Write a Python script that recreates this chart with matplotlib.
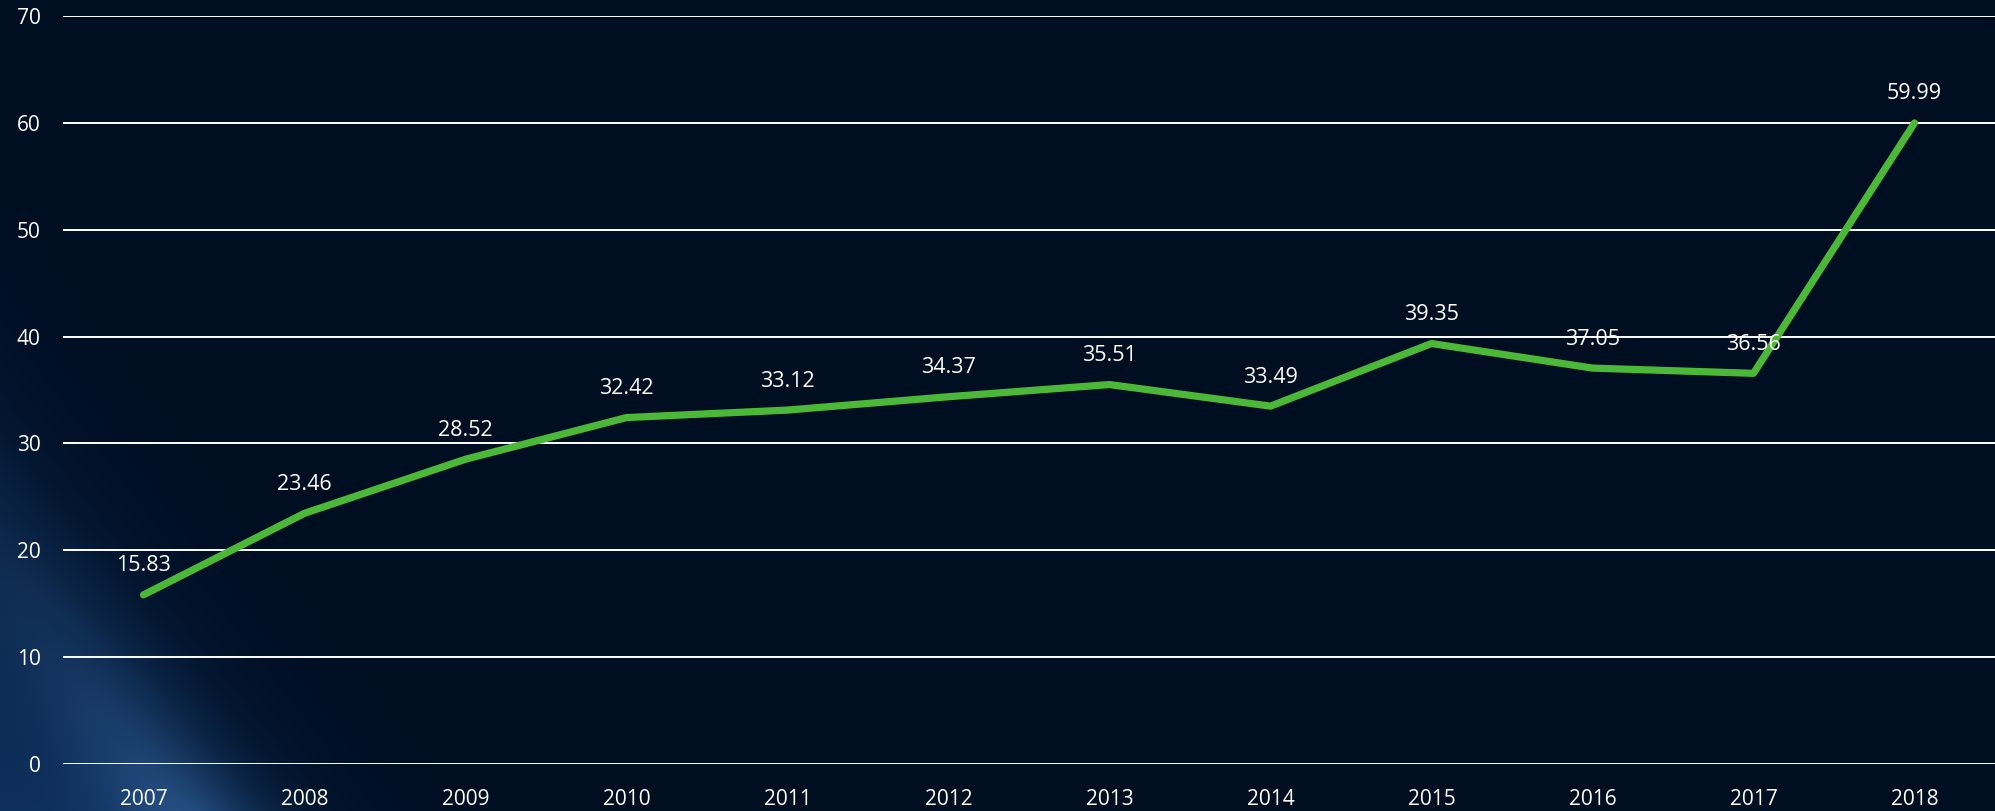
import numpy as np
import matplotlib
matplotlib.use("Agg")
import matplotlib.pyplot as plt

years = ["2007", "2008", "2009", "2010", "2011", "2012", "2013", "2014", "2015", "2016", "2017", "2018"]
values = [15.83, 23.46, 28.52, 32.42, 33.12, 34.37, 35.51, 33.49, 39.35, 37.05, 36.56, 59.99]
yticks = [0, 10, 20, 30, 40, 50, 60, 70]

plt.rcParams['font.family'] = ['Open Sans', 'DejaVu Sans']

W, H = 1995, 811
fig = plt.figure(figsize=(W / 100, H / 100), dpi=100)
bg_col = np.array([0x00, 0x0e, 0x22]) / 255.0
fig.patch.set_facecolor(bg_col)

# background glow (decoration)
bg = fig.add_axes([0, 0, 1, 1], zorder=0)
yy, xx = np.mgrid[0:H, 0:W].astype(float)
up = H - yy
u = xx + 0.69 * up
inside = 1 / (1 + np.exp((u - 260) / 50.0))
fade = np.exp(-up / 380.0)
glow = inside * (0.3 + 0.6 * fade)
band = np.exp(-((u - 180) / 70.0) ** 2) * np.exp(-up / 180.0)
img = np.zeros((H, W, 3))
glow_col = np.array([0x10, 0x34, 0x64]) / 255.0
band_col = np.array([0x46, 0x74, 0xa4]) / 255.0
for c in range(3):
    img[..., c] = bg_col[c] + glow * (glow_col[c] - bg_col[c]) + 0.35 * band * (band_col[c] - bg_col[c])
img = np.clip(img, 0, 1)
bg.imshow(img, aspect='auto', extent=[0, 1, 0, 1], origin='upper')
bg.axis('off')

ax = fig.add_axes([63 / W, 1 - 764 / H, 1 - 63 / W, (764 - 16) / H], zorder=1)
ax.patch.set_alpha(0)
x = np.arange(len(years))
ax.set_xlim(-0.5, len(years) - 0.5)
ax.set_ylim(0, 70)
ax.set_yticks(yticks)
ax.set_yticklabels([str(t) for t in yticks])
ax.set_xticks(x)
ax.set_xticklabels(years)
for t in yticks:
    ax.axhline(t, color='white', lw=1.4, zorder=1)
ax.plot(x, values, color='#4cb837', lw=5.2, solid_capstyle='round', solid_joinstyle='round', zorder=3)
for xi, v in zip(x, values):
    ax.annotate(f"{v:.2f}", (xi, v), xytext=(0, 29), textcoords='offset pixels',
                ha='center', va='center', color='white', fontsize=15.5, zorder=4)
for s in ax.spines.values():
    s.set_visible(False)
ax.tick_params(axis='both', length=0, colors='white', labelsize=15)
ax.tick_params(axis='y', pad=16)
ax.tick_params(axis='x', pad=18)
fig.savefig("out.png", dpi=100, facecolor=fig.get_facecolor())
